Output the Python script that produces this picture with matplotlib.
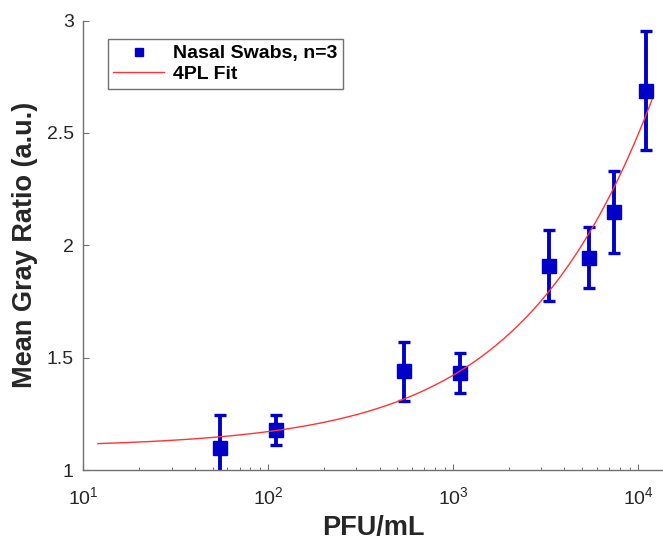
import numpy as np
import matplotlib
matplotlib.use("Agg")
import matplotlib.pyplot as plt
from matplotlib.lines import Line2D
from matplotlib.ticker import LogLocator, FormatStrFormatter, LogFormatterMathtext

plt.rcParams['font.family'] = ['Liberation Sans', 'DejaVu Sans']
plt.rcParams['mathtext.default'] = 'regular'

# Nasal swab dilution series (PFU/mL) and mean gray ratio with error
pfu = [55, 110, 545, 1090, 3300, 5450, 7450, 11000]
mean_ratio = [1.099, 1.179, 1.439, 1.432, 1.909, 1.945, 2.147, 2.688]
err_ratio = [0.146, 0.067, 0.132, 0.090, 0.157, 0.136, 0.182, 0.265]

# 4PL fit parameters: bottom, hill slope, inflection point, top
fit_bottom = 1.10
fit_hill = 0.662
fit_ec50 = 4.58e5
fit_top = 20.0
fit_range = [12, 11900]

x_fit = np.logspace(np.log10(fit_range[0]), np.log10(fit_range[1]), 300)
y_fit = fit_top + (fit_bottom - fit_top) / (1 + (x_fit / fit_ec50) ** fit_hill)

blue = '#0000C8'
red = '#FF3333'
axis_gray = '#707070'
text_dark = '#262626'

fig = plt.figure(figsize=(6.63, 5.43), dpi=100)
ax = fig.add_axes([0.1256, 0.1344, 0.8744, 0.8278])

ax.errorbar(pfu, mean_ratio, yerr=err_ratio, fmt='s', color=blue,
            markersize=10, elinewidth=2.8, capsize=4, capthick=2.4, zorder=2)
ax.plot(x_fit, y_fit, color=red, lw=1.0, zorder=3)

ax.set_xscale('log')
ax.set_xlim(10, 10 ** 4.135)
ax.set_ylim(1, 3)
ax.set_yticks([1, 1.5, 2, 2.5, 3])
ax.yaxis.set_major_formatter(FormatStrFormatter('%g'))
ax.xaxis.set_major_locator(LogLocator(base=10, numticks=10))
ax.xaxis.set_major_formatter(LogFormatterMathtext())
ax.xaxis.set_minor_locator(LogLocator(base=10, subs=np.arange(2, 10), numticks=20))

for side in ['top', 'right']:
    ax.spines[side].set_visible(False)
for side in ['left', 'bottom']:
    ax.spines[side].set_color(axis_gray)
    ax.spines[side].set_linewidth(1.0)

ax.tick_params(axis='both', which='both', direction='in', color=axis_gray,
               labelcolor=text_dark, labelsize=14)
ax.tick_params(axis='y', which='major', length=4, width=0.8, pad=6.8)
ax.tick_params(axis='x', which='major', length=4.5, width=0.8, pad=12)
ax.tick_params(axis='x', which='minor', length=2.2, width=0.7)

ax.set_xlabel('PFU/mL', fontsize=19.5, fontweight='bold', color=text_dark)
ax.set_ylabel('Mean Gray Ratio (a.u.)', fontsize=19.5, fontweight='bold', color=text_dark)
ax.xaxis.set_label_coords(0.5, -0.1)
ax.yaxis.set_label_coords(-0.078, 0.5)

handles = [
    Line2D([], [], marker='s', ls='none', color=blue, markersize=6),
    Line2D([], [], color=red, lw=1.0),
]
labels = ['Nasal Swabs, n=3', '4PL Fit']
leg = ax.legend(handles, labels, loc='upper left', bbox_to_anchor=(0.042, 0.959),
                borderaxespad=0, prop={'weight': 'bold', 'size': 14},
                fancybox=False, framealpha=1, edgecolor=axis_gray,
                handlelength=2.6, handletextpad=0.45, labelspacing=0.15,
                borderpad=0.3)
leg.get_frame().set_linewidth(1.0)

fig.savefig('out.png', dpi=100)
